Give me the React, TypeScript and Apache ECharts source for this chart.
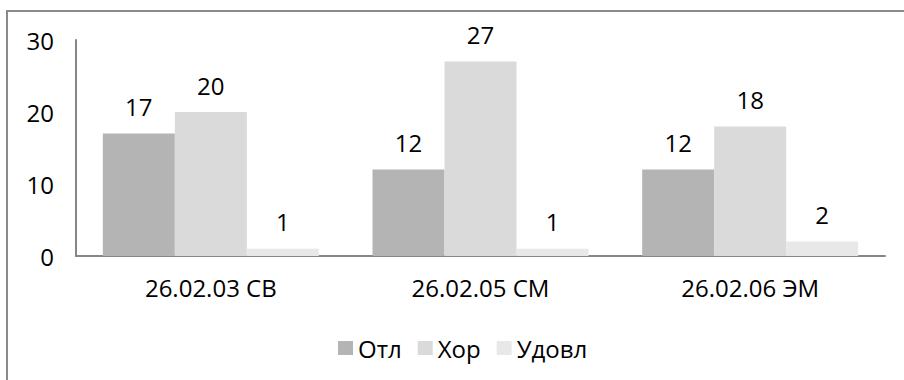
import React, { useEffect, useRef } from "react";
import * as echarts from "echarts";

const categories = ["26.02.03 СВ", "26.02.05 СМ", "26.02.06 ЭМ"];
const seriesNames = ["Отл", "Хор", "Удовл"];
const otl = [17, 12, 12];
const hor = [20, 27, 18];
const udovl = [1, 1, 2];
const yTicks = { min: 0, max: 30, interval: 10 };

const FONT = "Open Sans";
const FS = 24;
const colors = ["#b4b4b4", "#dadada", "#e8e8e8"];

export default function App() {
  const ref = useRef<HTMLDivElement>(null);
  useEffect(() => {
    if (!ref.current) return;
    const chart = echarts.init(ref.current, undefined, { renderer: "svg" });
    const values = [otl, hor, udovl];
    chart.setOption({
      animation: false,
      backgroundColor: "#ffffff",
      textStyle: { fontFamily: FONT },
      graphic: [
        {
          type: "rect",
          shape: { x: 7, y: 11, width: 1000, height: 500 },
          style: { fill: "none", stroke: "#8a8a8a", lineWidth: 2 },
          silent: true,
        },
      ],
      grid: { left: 76, right: 19, top: 40, bottom: 124, containLabel: false },
      legend: {
        data: seriesNames,
        left: 333,
        top: 331,
        itemWidth: 15,
        itemHeight: 14,
        itemGap: 16,
        icon: "rect",
        textStyle: { fontFamily: FONT, fontSize: FS, color: "#000000" },
      },
      xAxis: {
        type: "category",
        data: categories,
        axisLine: { show: true, lineStyle: { color: "#868686", width: 2 } },
        axisTick: { show: false },
        axisLabel: { fontFamily: FONT, fontSize: FS, color: "#000000", margin: 19 },
      },
      yAxis: {
        type: "value",
        min: yTicks.min,
        max: yTicks.max,
        interval: yTicks.interval,
        axisLine: { show: true, lineStyle: { color: "#868686", width: 2 } },
        axisTick: { show: false },
        splitLine: { show: false },
        axisLabel: { fontFamily: FONT, fontSize: FS, color: "#000000", margin: 22 },
      },
      series: seriesNames.map((name, i) => ({
        name,
        type: "bar",
        data: values[i],
        barWidth: 72,
        barGap: "0%",
        itemStyle: { color: colors[i] },
        label: {
          show: true,
          position: "top",
          distance: 15,
          fontFamily: FONT,
          fontSize: FS,
          color: "#000000",
        },
      })),
    });
    return () => chart.dispose();
  }, []);
  return (
    <div
      ref={ref}
      style={{ position: "absolute", left: 0, top: 0, width: 904, height: 380 }}
    />
  );
}
